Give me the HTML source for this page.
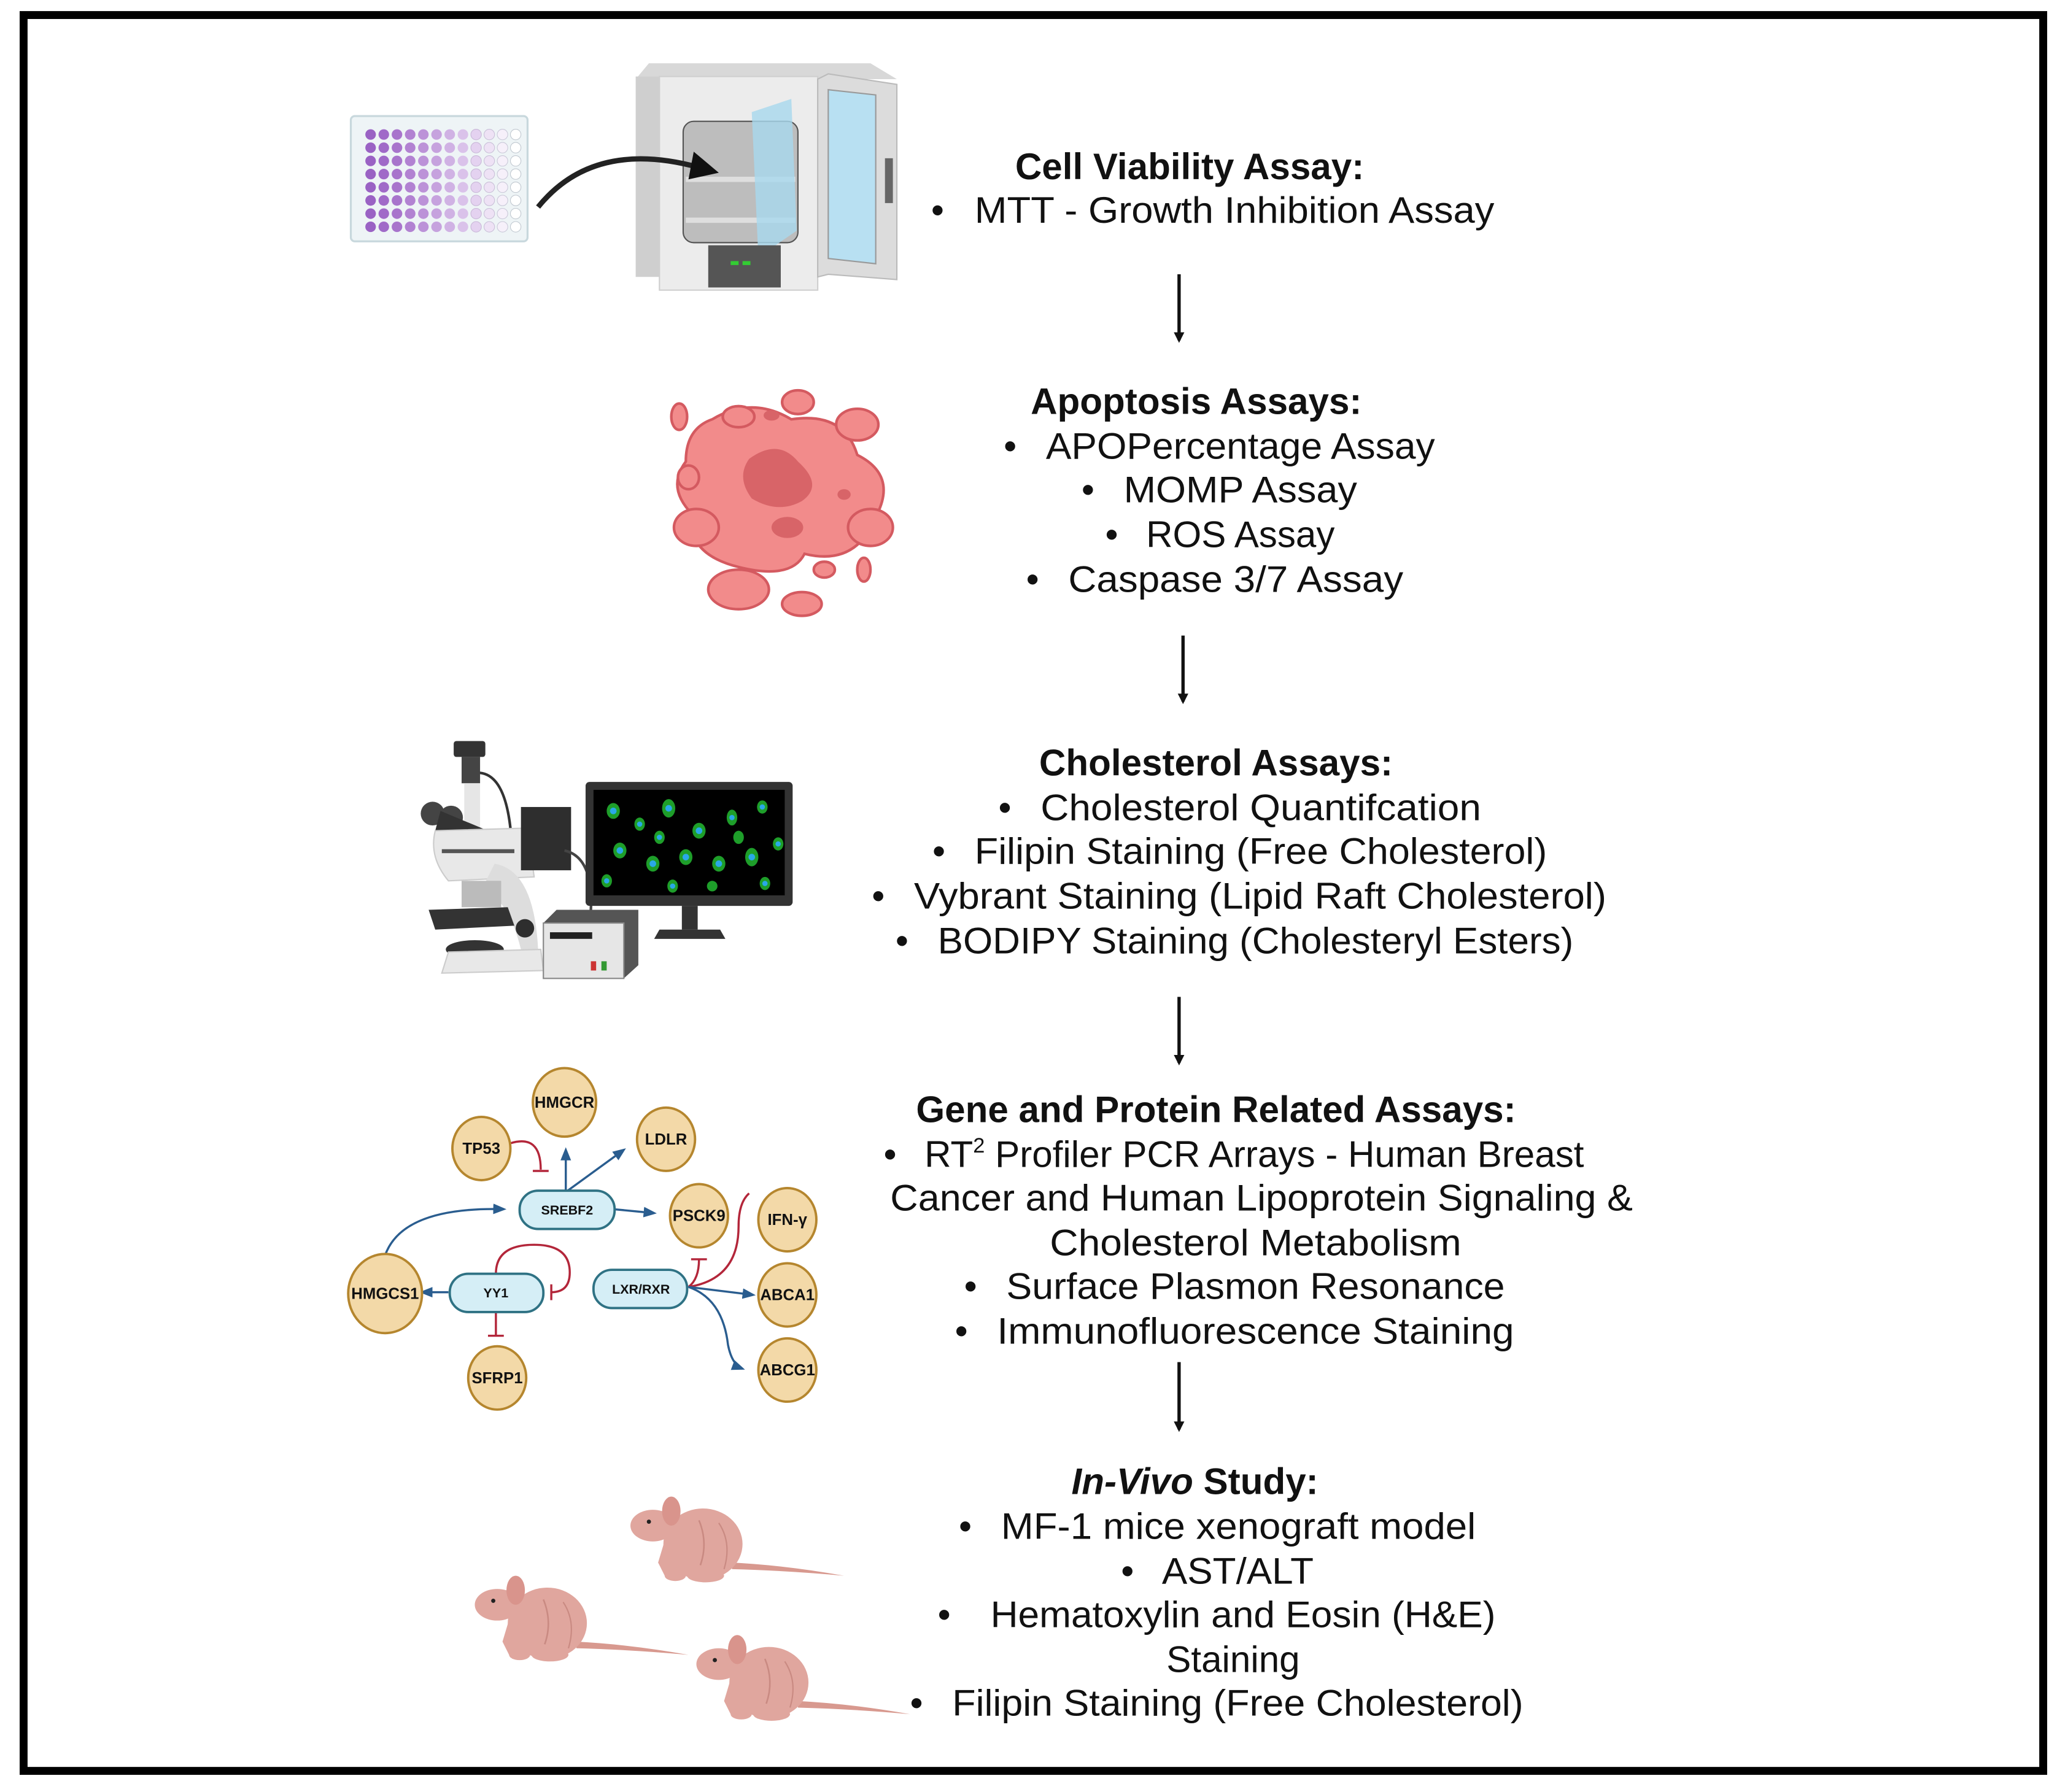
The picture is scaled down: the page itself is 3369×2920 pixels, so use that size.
<!DOCTYPE html>
<html><head><meta charset="utf-8"><style>
html,body{margin:0;padding:0;background:#fff;}
svg{display:block;}
text{font-family:"Liberation Sans",Arial,sans-serif;fill:#111;}
.t{font-size:28px;}
.h{font-size:28px;font-weight:bold;}
.n{font-size:12px;font-weight:bold;text-anchor:middle;}
</style></head><body>
<svg width="3369" height="2920" viewBox="0 0 1568 1359" xmlns="http://www.w3.org/2000/svg">
<defs>
<marker id="ab" markerWidth="8" markerHeight="8" refX="6" refY="4" orient="auto" markerUnits="userSpaceOnUse"><path d="M0,0 L8,4 L0,8 z" fill="#111"/></marker>
<marker id="bb" markerWidth="10" markerHeight="10" refX="8" refY="5" orient="auto" markerUnits="userSpaceOnUse"><path d="M0,1 L10,5 L0,9 z" fill="#2a5d8f"/></marker>
<g id="row">
<circle cx="0" cy="0" r="4" fill="#9a62c4"/><circle cx="10" cy="0" r="4" fill="#a06ac8"/><circle cx="20" cy="0" r="4" fill="#a874cc"/><circle cx="30" cy="0" r="4" fill="#b282d2"/><circle cx="40" cy="0" r="4" fill="#bc92d8"/><circle cx="50" cy="0" r="4" fill="#c6a2de"/><circle cx="60" cy="0" r="4" fill="#d0b2e4"/><circle cx="70" cy="0" r="4" fill="#dac2ea"/><circle cx="80" cy="0" r="4" fill="#e4d2f0" stroke="#c9b8d8" stroke-width=".5"/><circle cx="90" cy="0" r="4" fill="#eee2f5" stroke="#c9c0d8" stroke-width=".5"/><circle cx="100" cy="0" r="4" fill="#f6f0fa" stroke="#c9c8d8" stroke-width=".5"/><circle cx="110" cy="0" r="4" fill="#fff" stroke="#c0c8d0" stroke-width=".5"/>
</g>
<g id="mouse" fill="#e0a69e">
<path d="M80,50 Q120,52 165,60 Q120,56 80,55 z" fill="#d8998f"/>
<ellipse cx="58" cy="36" rx="30" ry="27"/>
<ellipse cx="20" cy="22" rx="17" ry="12"/>
<ellipse cx="34" cy="11" rx="7" ry="11" fill="#d9948c"/>
<path d="M30,30 L48,58 L30,62 L24,50 z"/>
<ellipse cx="37" cy="60" rx="8" ry="4"/>
<ellipse cx="60" cy="60" rx="14" ry="5"/>
<circle cx="17" cy="19" r="1.6" fill="#222"/>
<path d="M55,18 Q62,35 56,52" stroke="#c98a82" stroke-width="1.2" fill="none"/>
<path d="M70,20 Q80,35 74,55" stroke="#c98a82" stroke-width="1" fill="none"/>
</g>
</defs>
<rect x="0" y="0" width="1568" height="1359" fill="#fff"/>
<rect x="17.9" y="11.4" width="1531.3" height="1331.6" fill="none" stroke="#000" stroke-width="6"/>

<!-- well plate -->
<rect x="266" y="88" width="134" height="95" rx="3" fill="#eef4f6" stroke="#c8d8dd" stroke-width="1.5"/>
<use href="#row" x="281" y="102"/><use href="#row" x="281" y="112"/><use href="#row" x="281" y="122"/><use href="#row" x="281" y="132"/><use href="#row" x="281" y="142"/><use href="#row" x="281" y="152"/><use href="#row" x="281" y="162"/><use href="#row" x="281" y="172"/>
<!-- incubator -->
<path d="M482,60 L492,48 L660,48 L680,60 Z" fill="#d8d8d8"/>
<rect x="482" y="58" width="20" height="152" fill="#cfcfcf"/>
<rect x="500" y="58" width="120" height="162" fill="#ececec" stroke="#cfcfcf"/>
<rect x="518" y="92" width="87" height="92" rx="8" fill="#bdbdbd" stroke="#555" stroke-width="1"/>
<rect x="520" y="134" width="83" height="4" fill="#dedede"/>
<rect x="520" y="165" width="83" height="4" fill="#dedede"/>
<path d="M570,85 L600,75 L604,175 L575,195 Z" fill="#a8d8ee" opacity=".8"/>
<rect x="537" y="186" width="55" height="32" fill="#555"/>
<rect x="554" y="198" width="6" height="3" fill="#3c3"/><rect x="563" y="198" width="6" height="3" fill="#3c3"/>
<path d="M620,60 L628,56 L680,64 L680,212 L628,208 L620,210 Z" fill="#dcdcdc" stroke="#bbb"/>
<path d="M628,68 L664,72 L664,200 L628,196 Z" fill="#b8e0f2" stroke="#999"/>
<rect x="671" y="120" width="6" height="34" fill="#666"/>
<!-- curved arrow -->
<path d="M408,157 Q450,105 530,127" stroke="#222" stroke-width="4" fill="none"/>
<path d="M526,115 L545,131 L522,136 z" fill="#111"/>

<!-- apoptotic cell -->
<g fill="#f28b8b" stroke="#d45a60" stroke-width="2">
<path d="M540,318 Q570,300 600,318 Q640,312 650,345 Q680,360 665,390 Q650,430 610,420 Q600,440 560,430 Q520,420 525,390 Q505,370 520,350 Q520,325 540,318 Z"/>
<ellipse cx="515" cy="316" rx="6" ry="10"/>
<ellipse cx="560" cy="316" rx="12" ry="8"/>
<ellipse cx="605" cy="305" rx="12" ry="9"/>
<ellipse cx="650" cy="322" rx="16" ry="12"/>
<ellipse cx="528" cy="400" rx="17" ry="14"/>
<ellipse cx="522" cy="362" rx="8" ry="9"/>
<ellipse cx="660" cy="400" rx="17" ry="14"/>
<ellipse cx="655" cy="432" rx="5" ry="9"/>
<ellipse cx="560" cy="447" rx="23" ry="15"/>
<ellipse cx="608" cy="458" rx="15" ry="9"/>
<ellipse cx="625" cy="432" rx="8" ry="6"/>
</g>
<path d="M568,348 Q590,332 605,350 Q625,368 608,380 Q590,390 570,378 Q558,362 568,348 Z" fill="#d86468"/>
<ellipse cx="597" cy="400" rx="12" ry="8" fill="#d86468"/>
<ellipse cx="585" cy="315" rx="6" ry="4" fill="#d86468"/>
<ellipse cx="640" cy="375" rx="5" ry="4" fill="#d86468"/>

<!-- microscope -->
<path d="M362,586 Q385,586 388,640" stroke="#333" stroke-width="2" fill="none"/>
<rect x="344" y="562" width="24" height="12" rx="2" fill="#333"/>
<rect x="350" y="574" width="14" height="20" fill="#444"/>
<rect x="352" y="594" width="12" height="35" fill="#e6e6e6"/>
<circle cx="328" cy="617" r="9" fill="#444"/><circle cx="342" cy="620" r="9" fill="#444"/>
<path d="M334,615 L370,630 L362,648 L330,630 Z" fill="#333"/>
<path d="M330,630 L400,628 L405,665 L340,668 Q325,650 330,630 Z" fill="#e8e8e8" stroke="#ccc"/>
<rect x="335" y="644" width="55" height="3" fill="#555"/>
<rect x="395" y="612" width="38" height="48" fill="#2e2e2e"/>
<path d="M375,655 Q405,660 408,720 L395,720 Q385,680 365,675 Z" fill="#ddd"/>
<rect x="350" y="668" width="30" height="20" fill="#bbb"/>
<path d="M325,690 L385,688 L390,702 L330,705 Z" fill="#333"/>
<ellipse cx="360" cy="720" rx="22" ry="7" fill="#333"/>
<circle cx="398" cy="704" r="7" fill="#2e2e2e"/>
<path d="M340,722 L410,720 L412,736 L335,738 Z" fill="#e8e8e8" stroke="#ccc"/>
<path d="M428,645 Q450,650 448,690" stroke="#444" stroke-width="2" fill="none"/>
<!-- controller -->
<path d="M412,700 L422,690 L484,690 L484,732 L473,742 Z" fill="#555"/>
<rect x="412" y="700" width="61" height="42" fill="#e6e6e6" stroke="#888"/>
<rect x="417" y="707" width="32" height="5" fill="#222"/>
<rect x="448" y="729" width="4" height="7" fill="#c33"/><rect x="456" y="729" width="4" height="7" fill="#393"/>
<!-- monitor -->
<rect x="444" y="593" width="157" height="94" rx="3" fill="#333"/>
<rect x="450" y="599" width="145" height="80" fill="#000"/>
<g fill="#1e9e2a"><ellipse cx="465" cy="615" rx="5" ry="6"/><ellipse cx="485" cy="625" rx="4" ry="5"/><ellipse cx="507" cy="613" rx="5" ry="7"/><ellipse cx="530" cy="630" rx="5" ry="6"/><ellipse cx="555" cy="620" rx="4" ry="6"/><ellipse cx="578" cy="612" rx="4" ry="5"/><ellipse cx="590" cy="640" rx="4" ry="5"/><ellipse cx="470" cy="645" rx="5" ry="6"/><ellipse cx="495" cy="655" rx="5" ry="6"/><ellipse cx="520" cy="650" rx="5" ry="6"/><ellipse cx="545" cy="655" rx="5" ry="6"/><ellipse cx="570" cy="650" rx="5" ry="7"/><ellipse cx="460" cy="668" rx="4" ry="5"/><ellipse cx="510" cy="672" rx="4" ry="5"/><ellipse cx="540" cy="672" rx="4" ry="4"/><ellipse cx="580" cy="670" rx="4" ry="5"/><ellipse cx="560" cy="635" rx="4" ry="5"/><ellipse cx="500" cy="635" rx="4" ry="5"/></g>
<g fill="#2aa8e8"><circle cx="465" cy="615" r="2.5"/><circle cx="485" cy="625" r="2"/><circle cx="507" cy="613" r="2.5"/><circle cx="530" cy="630" r="2.5"/><circle cx="555" cy="620" r="2"/><circle cx="578" cy="612" r="2"/><circle cx="590" cy="640" r="2"/><circle cx="470" cy="645" r="2.5"/><circle cx="495" cy="655" r="2.5"/><circle cx="520" cy="650" r="2.5"/><circle cx="545" cy="655" r="2.5"/><circle cx="570" cy="650" r="2.5"/><circle cx="460" cy="668" r="2"/><circle cx="510" cy="672" r="2"/><circle cx="580" cy="670" r="2"/><circle cx="500" cy="635" r="2"/></g>
<rect x="517" y="687" width="12" height="18" fill="#333"/>
<path d="M496,712 L500,705 L546,705 L550,712 Z" fill="#333"/>

<!-- gene network -->
<g fill="none" stroke-width="1.6">
<path d="M292,952 Q305,915 382,917" stroke="#2a5d8f" marker-end="url(#bb)"/>
<path d="M429,904 L429,872" stroke="#2a5d8f" marker-end="url(#bb)"/>
<path d="M429,904 L473,872" stroke="#2a5d8f" marker-end="url(#bb)"/>
<path d="M465,917 L496,920" stroke="#2a5d8f" marker-end="url(#bb)"/>
<path d="M387,867 Q410,860 410,887" stroke="#b3263a"/>
<path d="M404,888 L416,888" stroke="#b3263a"/>
<path d="M376,966 Q376,944 405,944 Q432,944 432,965 Q432,980 418,980" stroke="#b3263a"/>
<path d="M418,974 L418,986" stroke="#b3263a"/>
<path d="M340,980 L320,980" stroke="#2a5d8f" marker-end="url(#bb)"/>
<path d="M376,994 L376,1013" stroke="#b3263a"/>
<path d="M370,1013 L382,1013" stroke="#b3263a"/>
<path d="M522,976 Q530,970 530,955" stroke="#b3263a"/>
<path d="M524,955 L536,955" stroke="#b3263a"/>
<path d="M522,976 Q560,970 560,930 Q560,912 568,905" stroke="#b3263a"/>
<path d="M522,976 L571,982" stroke="#2a5d8f" marker-end="url(#bb)"/>
<path d="M522,976 Q548,985 552,1020 Q555,1035 563,1038" stroke="#2a5d8f" marker-end="url(#bb)"/>
</g>
<g fill="#f3d9a8" stroke="#b5862e" stroke-width="1.8">
<ellipse cx="428" cy="836" rx="24" ry="26"/>
<ellipse cx="365" cy="871" rx="22" ry="24"/>
<ellipse cx="505" cy="864" rx="22" ry="24"/>
<ellipse cx="530" cy="922" rx="22" ry="24"/>
<ellipse cx="597" cy="925" rx="22" ry="24"/>
<ellipse cx="292" cy="981" rx="28" ry="30"/>
<ellipse cx="597" cy="982" rx="22" ry="24"/>
<ellipse cx="597" cy="1039" rx="22" ry="24"/>
<ellipse cx="377" cy="1045" rx="22" ry="24"/>
</g>
<g fill="#d5eef6" stroke="#2f7284" stroke-width="1.8">
<rect x="394" y="903" width="72" height="29" rx="14"/>
<rect x="341" y="966" width="71" height="29" rx="14"/>
<rect x="450" y="963" width="71" height="29" rx="14"/>
</g>
<text class="n" x="428" y="840">HMGCR</text>
<text class="n" x="365" y="875">TP53</text>
<text class="n" x="505" y="868">LDLR</text>
<text class="n" x="530" y="926">PSCK9</text>
<text class="n" x="597" y="929">IFN-γ</text>
<text class="n" x="292" y="985">HMGCS1</text>
<text class="n" x="597" y="986">ABCA1</text>
<text class="n" x="597" y="1043">ABCG1</text>
<text class="n" x="377" y="1049">SFRP1</text>
<text class="n" x="430" y="921" style="font-size:10px">SREBF2</text>
<text class="n" x="376" y="984" style="font-size:10px">YY1</text>
<text class="n" x="486" y="981" style="font-size:10px">LXR/RXR</text>

<!-- mice -->
<use href="#mouse" x="475" y="1135"/>
<use href="#mouse" x="357" y="1195"/>
<use href="#mouse" x="525" y="1240"/>

<!-- arrows -->
<g stroke="#111" stroke-width="2.5" marker-end="url(#ab)">
<line x1="894" y1="208" x2="894" y2="258"/>
<line x1="897" y1="482" x2="897" y2="532"/>
<line x1="894" y1="756" x2="894" y2="806"/>
<line x1="894" y1="1033" x2="894" y2="1084"/>
</g>

<!-- text -->
<text class="h" x="902" y="136" text-anchor="middle">Cell Viability Assay:</text>
<text class="t" x="706" y="169">•</text><text class="t" x="739" y="169" textLength="394" lengthAdjust="spacingAndGlyphs">MTT - Growth Inhibition Assay</text>

<text class="h" x="907" y="314" text-anchor="middle">Apoptosis Assays:</text>
<text class="t" x="761" y="348">•</text><text class="t" x="793" y="348" textLength="295" lengthAdjust="spacingAndGlyphs">APOPercentage Assay</text>
<text class="t" x="820" y="381">•</text><text class="t" x="852" y="381" textLength="177" lengthAdjust="spacingAndGlyphs">MOMP Assay</text>
<text class="t" x="838" y="415">•</text><text class="t" x="869" y="415" textLength="143" lengthAdjust="spacingAndGlyphs">ROS Assay</text>
<text class="t" x="778" y="449">•</text><text class="t" x="810" y="449" textLength="254" lengthAdjust="spacingAndGlyphs">Caspase 3/7 Assay</text>

<text class="h" x="922" y="588" text-anchor="middle">Cholesterol Assays:</text>
<text class="t" x="757" y="622">•</text><text class="t" x="789" y="622" textLength="334" lengthAdjust="spacingAndGlyphs">Cholesterol Quantifcation</text>
<text class="t" x="707" y="655">•</text><text class="t" x="739" y="655" textLength="434" lengthAdjust="spacingAndGlyphs">Filipin Staining (Free Cholesterol)</text>
<text class="t" x="661" y="689">•</text><text class="t" x="693" y="689" textLength="525" lengthAdjust="spacingAndGlyphs">Vybrant Staining (Lipid Raft Cholesterol)</text>
<text class="t" x="679" y="723">•</text><text class="t" x="711" y="723" textLength="482" lengthAdjust="spacingAndGlyphs">BODIPY Staining (Cholesteryl Esters)</text>

<text class="h" x="922" y="851" text-anchor="middle">Gene and Protein Related Assays:</text>
<text class="t" x="670" y="885">•</text><text class="t" x="701" y="885">RT<tspan font-size="16" dy="-11">2</tspan><tspan dy="11"> Profiler PCR Arrays - Human Breast</tspan></text>
<text class="t" x="675" y="918" textLength="563" lengthAdjust="spacingAndGlyphs">Cancer and Human Lipoprotein Signaling &amp;</text>
<text class="t" x="796" y="952" textLength="312" lengthAdjust="spacingAndGlyphs">Cholesterol Metabolism</text>
<text class="t" x="731" y="985">•</text><text class="t" x="763" y="985" textLength="378" lengthAdjust="spacingAndGlyphs">Surface Plasmon Resonance</text>
<text class="t" x="724" y="1019">•</text><text class="t" x="756" y="1019" textLength="392" lengthAdjust="spacingAndGlyphs">Immunofluorescence Staining</text>

<text class="h" x="906" y="1133" text-anchor="middle"><tspan font-style="italic">In-Vivo</tspan> Study:</text>
<text class="t" x="727" y="1167">•</text><text class="t" x="759" y="1167" textLength="360" lengthAdjust="spacingAndGlyphs">MF-1 mice xenograft model</text>
<text class="t" x="850" y="1201">•</text><text class="t" x="881" y="1201" textLength="115" lengthAdjust="spacingAndGlyphs">AST/ALT</text>
<text class="t" x="711" y="1234">•</text><text class="t" x="751" y="1234" textLength="383" lengthAdjust="spacingAndGlyphs">Hematoxylin and Eosin (H&amp;E)</text>
<text class="t" x="935" y="1268" text-anchor="middle">Staining</text>
<text class="t" x="690" y="1301">•</text><text class="t" x="722" y="1301" textLength="433" lengthAdjust="spacingAndGlyphs">Filipin Staining (Free Cholesterol)</text>
</svg>
</body></html>
